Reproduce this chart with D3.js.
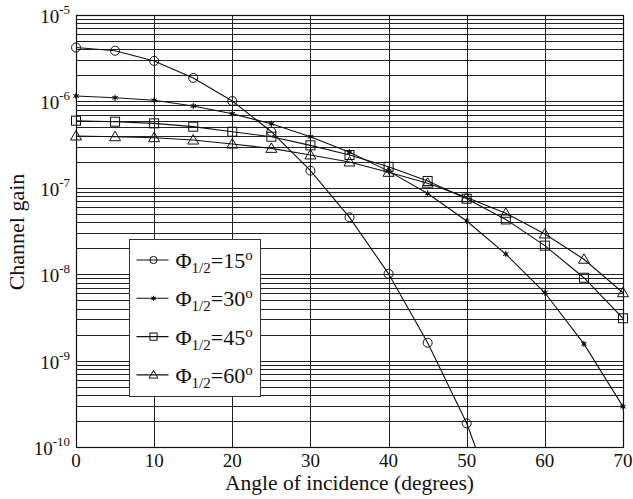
<!DOCTYPE html>
<html>
<head>
<meta charset="utf-8">
<script src="https://cdn.jsdelivr.net/npm/d3@7"></script>
<style>
  body { margin: 0; background: #fff; }
  svg, svg text { font-family: "Liberation Serif", Tinos, "Times New Roman", Times, "DejaVu Serif", serif; fill: #111; }
</style>
</head>
<body>
<div id="chart"></div>
<script>
// angle of incidence (degrees)
var angles = [0, 5, 10, 15, 20, 25, 30, 35, 40, 45, 50, 55, 60, 65, 70];

// channel gain for each semi-angle at half power
var gain15 = [4.2e-6, 3.86e-6, 2.94e-6, 1.87e-6, 1.01e-6, 4.46e-7, 1.58e-7, 4.55e-8, 1.01e-8, 1.61e-9, 1.88e-10, 1.1e-11];
var gain30 = [1.155e-6, 1.1e-6, 1.03e-6, 8.85e-7, 7.2e-7, 5.5e-7, 3.9e-7, 2.58e-7, 1.56e-7, 8.6e-8, 4.13e-8, 1.71e-8, 6.1e-9, 1.56e-9, 2.93e-10];
var gain45 = [5.98e-7, 5.82e-7, 5.57e-7, 5.1e-7, 4.46e-7, 3.9e-7, 3.1e-7, 2.4e-7, 1.75e-7, 1.2e-7, 7.48e-8, 4.3e-8, 2.14e-8, 9.1e-9, 3.09e-9];
var gain60 = [3.98e-7, 3.9e-7, 3.8e-7, 3.57e-7, 3.21e-7, 2.86e-7, 2.4e-7, 1.99e-7, 1.51e-7, 1.13e-7, 7.7e-8, 5.07e-8, 2.92e-8, 1.49e-8, 6.1e-9];

var seriesNames = ["15", "30", "45", "60"];
var seriesMarks = ["circle", "star", "square", "triangle"];
var xTicks = [0, 10, 20, 30, 40, 50, 60, 70];
var yDecades = [-10, -9, -8, -7, -6, -5];

var series = [gain15, gain30, gain45, gain60].map(function(vals, i) {
  return {
    name: seriesNames[i],
    mark: seriesMarks[i],
    points: vals.map(function(v, j) { return {x: angles[j], y: v}; })
  };
});

var W = 633, H = 499;
var margin = {top: 15, right: 10, bottom: 52, left: 76},
    width = 623 - margin.left,
    height = 447 - margin.top;

var svg = d3.select("#chart").append("svg")
  .attr("width", W)
  .attr("height", H)
  .attr("font-family", "Liberation Serif, Times New Roman, serif");

var g = svg.append("g")
  .attr("transform", "translate(" + margin.left + "," + margin.top + ")");

var x = d3.scaleLinear().domain([0, 70]).range([0, width]);
var y = d3.scaleLog().domain([1e-10, 1e-5]).range([height, 0]);

svg.append("defs").append("clipPath").attr("id", "plotclip")
  .append("rect").attr("width", width).attr("height", height);

// horizontal log grid
g.append("g").attr("class", "grid")
  .selectAll("line")
  .data(y.ticks())
  .enter().append("line")
  .attr("x1", 0).attr("x2", width)
  .attr("y1", function(d) { return Math.round(y(d)) + 0.5; })
  .attr("y2", function(d) { return Math.round(y(d)) + 0.5; })
  .attr("stroke", "#222")
  .attr("stroke-width", 1);

// vertical grid
g.append("g").attr("class", "grid")
  .selectAll("line")
  .data(xTicks)
  .enter().append("line")
  .attr("y1", 0).attr("y2", height)
  .attr("x1", function(d) { return Math.round(x(d)) + 0.5; })
  .attr("x2", function(d) { return Math.round(x(d)) + 0.5; })
  .attr("stroke", "#222")
  .attr("stroke-width", 1);

// frame
g.append("rect")
  .attr("x", 0.5).attr("y", 0.5)
  .attr("width", width).attr("height", height)
  .attr("fill", "none")
  .attr("stroke", "#111")
  .attr("stroke-width", 1.2);

// x tick labels
g.append("g").selectAll("text")
  .data(xTicks)
  .enter().append("text")
  .attr("x", function(d) { return x(d); })
  .attr("y", height + 20)
  .attr("text-anchor", "middle")
  .style("font-size", "19px")
  .text(function(d) { return d; });

// y tick labels 10^n
var yl = g.append("g").selectAll("text")
  .data(yDecades)
  .enter().append("text")
  .attr("x", -6)
  .attr("y", function(d) { return y(Math.pow(10, d)) + 8; })
  .attr("text-anchor", "end")
  .style("font-size", "19px");
yl.append("tspan").text("10");
yl.append("tspan")
  .attr("dy", -9)
  .style("font-size", "13px")
  .text(function(d) { return "-" + (-d); });

// axis titles
svg.append("text")
  .attr("x", margin.left + width / 2)
  .attr("y", 490)
  .attr("text-anchor", "middle")
  .style("font-size", "21.5px")
  .text("Angle of incidence (degrees)");

svg.append("text")
  .attr("transform", "translate(24,232) rotate(-90)")
  .attr("text-anchor", "middle")
  .style("font-size", "22px")
  .text("Channel gain");

// lines
var line = d3.line()
  .x(function(d) { return x(d.x); })
  .y(function(d) { return y(d.y); });

var plot = g.append("g").attr("clip-path", "url(#plotclip)");

plot.selectAll(".series")
  .data(series)
  .enter().append("path")
  .attr("class", "series")
  .attr("d", function(d) { return line(d.points); })
  .attr("fill", "none")
  .attr("stroke", "#111")
  .attr("stroke-width", 1.1);

function drawMark(sel, mark, k) {
  k = k || 1;
  if (mark === "circle") {
    sel.append("circle").attr("r", 4.5 * k)
      .attr("fill", "none").attr("stroke", "#111").attr("stroke-width", 1);
  } else if (mark === "square") {
    sel.append("rect").attr("x", -4.5 * k).attr("y", -4.5 * k)
      .attr("width", 9 * k).attr("height", 9 * k)
      .attr("fill", "none").attr("stroke", "#111").attr("stroke-width", 1);
  } else if (mark === "triangle") {
    sel.append("path")
      .attr("d", "M0," + (-5.5 * k) + "L" + (5.5 * k) + "," + (4 * k) + "L" + (-5.5 * k) + "," + (4 * k) + "Z")
      .attr("fill", "none").attr("stroke", "#111").attr("stroke-width", 1);
  } else {
    sel.append("path").attr("d", d3.symbol(d3.symbolAsterisk, 28 * k * k)())
      .attr("fill", "none").attr("stroke", "#111").attr("stroke-width", 1);
    sel.append("circle").attr("r", 1.8).attr("fill", "#111");
  }
}

series.forEach(function(s) {
  var pts = s.points.filter(function(p) { return p.y >= 1e-10; });
  var m = g.append("g").selectAll("g")
    .data(pts)
    .enter().append("g")
    .attr("transform", function(p) { return "translate(" + x(p.x) + "," + y(p.y) + ")"; });
  drawMark(m, s.mark);
});

// legend
var lg = svg.append("g").attr("transform", "translate(129.5,239.5)");
lg.append("rect")
  .attr("width", 131).attr("height", 157)
  .attr("fill", "#fff")
  .attr("stroke", "#333")
  .attr("stroke-width", 1);

var item = lg.selectAll(".item")
  .data(series)
  .enter().append("g")
  .attr("class", "item")
  .attr("transform", function(d, i) { return "translate(0," + (20.5 + i * 38.3) + ")"; });

item.append("line")
  .attr("x1", 7).attr("x2", 39)
  .attr("stroke", "#111").attr("stroke-width", 1.1);

item.each(function(d) {
  var mg = d3.select(this).append("g").attr("transform", "translate(24,0)");
  drawMark(mg, d.mark, 0.8);
});

var lt = item.append("text")
  .attr("x", 46)
  .attr("y", 8)
  .style("font-size", "22px");
lt.append("tspan").text("\u03A6");
lt.append("tspan").attr("dy", 5).style("font-size", "15px").text("1/2");
lt.append("tspan").attr("dy", -5).text(function(d) { return "=" + d.name; });
lt.append("tspan").attr("dy", -8).style("font-size", "15px").text("o");
</script>
</body>
</html>
